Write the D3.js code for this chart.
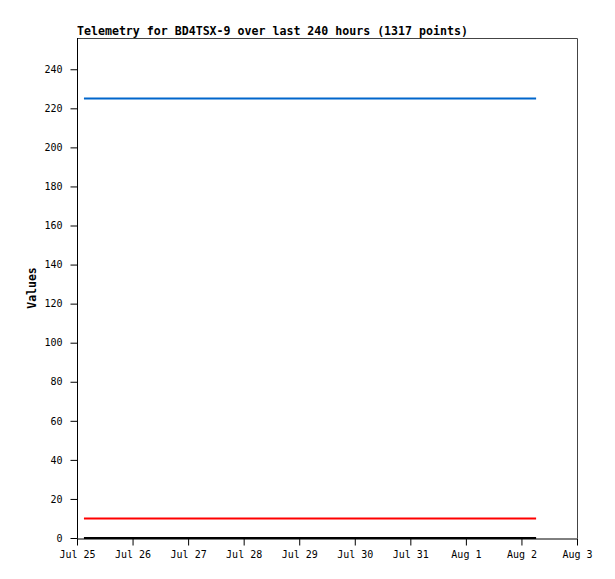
<!DOCTYPE html>
<html>
<head>
<meta charset="utf-8">
<script src="https://cdn.jsdelivr.net/npm/d3@7"></script>
<style>
html,body{margin:0;padding:0;background:#fff;}
svg{display:block;}
</style>
</head>
<body>
<svg id="chart" width="615" height="579"></svg>
<script>
const titleText = "Telemetry for BD4TSX-9 over last 240 hours (1317 points)";
const yLabel = "Values";
const xDomain = ["2024-07-25T00:00", "2024-08-03T00:00"];
const xTickLabels = ["Jul 25","Jul 26","Jul 27","Jul 28","Jul 29","Jul 30","Jul 31","Aug 1","Aug 2","Aug 3"];
const yTicks = [0,20,40,60,80,100,120,140,160,180,200,220,240];
const yMax = 256;
const seriesTimes = ["2024-07-25T03:00", "2024-08-02T06:20"];
const seriesBlue = [225, 225];
const seriesRed = [10, 10];
const seriesBlack = [0, 0];
const seriesColors = ["#0066cc", "#ff0000", "#000000"];

const parse = d3.utcParse("%Y-%m-%dT%H:%M");
const svg = d3.select("#chart");
const m = {left:77, right:38, top:38, bottom:41};
const W = 615, H = 579;
const x = d3.scaleUtc().domain(xDomain.map(parse)).range([m.left, W - m.right]);
const y = d3.scaleLinear().domain([0, yMax]).range([H - m.bottom, m.top]);

const font = "'DejaVu Sans Mono', 'Liberation Mono', monospace";

// frame top/right
svg.append("path")
  .attr("d", `M${m.left},${m.top+0.5}H${W-m.right+0.5}V${H-m.bottom}`)
  .attr("fill","none").attr("stroke","#444").attr("stroke-width",1);

// series
const times = seriesTimes.map(parse);
const line = d3.line().x(d => x(d[0])).y(d => y(d[1]));
[seriesBlue, seriesRed, seriesBlack].forEach((vals, i) => {
  svg.append("path")
    .datum(vals.map((v, j) => [times[j], v]))
    .attr("d", line)
    .attr("fill","none")
    .attr("stroke", seriesColors[i])
    .attr("stroke-width", 2);
});

// y axis
const yAxis = svg.append("g")
  .attr("transform", `translate(${m.left+0.5},0)`)
  .call(d3.axisLeft(y).tickValues(yTicks).tickSize(7).tickPadding(8).tickSizeOuter(0));
yAxis.select(".domain").attr("d", `M0,${m.top}V${H-m.bottom+0.5}`).attr("stroke","#000");
yAxis.selectAll("text").attr("font-family", font).attr("font-size", 10).attr("fill","#000");

// x axis
const xTicks = d3.utcDay.range(parse(xDomain[0]), d3.utcDay.offset(parse(xDomain[1]),1));
const xAxis = svg.append("g")
  .attr("transform", `translate(0,${H-m.bottom+0.5})`)
  .call(d3.axisBottom(x).tickValues(xTicks).tickSize(7).tickPadding(5).tickSizeOuter(0)
    .tickFormat((d,i) => xTickLabels[i]));
xAxis.select(".domain").attr("stroke","#000");
xAxis.selectAll("text").attr("font-family", font).attr("font-size", 10).attr("fill","#000");

// title
svg.append("text")
  .attr("x", m.left).attr("y", 35)
  .attr("font-family", font).attr("font-size", 11.6).attr("font-weight","bold")
  .text(titleText);

// y label
svg.append("text")
  .attr("transform", `translate(36,${(m.top + H - m.bottom)/2}) rotate(-90)`)
  .attr("text-anchor","middle")
  .attr("font-family", font).attr("font-size", 11.5).attr("font-weight","bold")
  .text(yLabel);
</script>
</body>
</html>
